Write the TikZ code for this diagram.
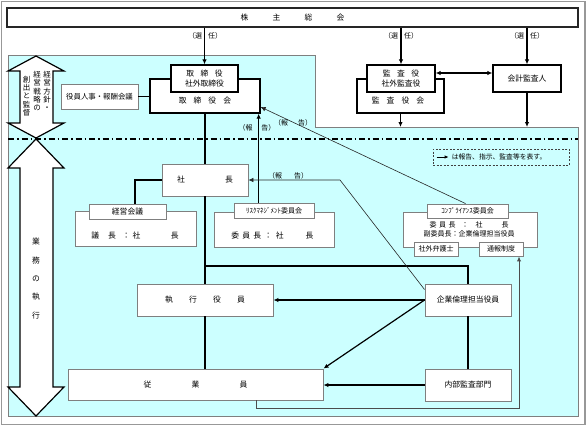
\documentclass[tikz,border=0pt]{standalone}
\usepackage{fontspec}
\newfontfamily\jp{Noto Sans CJK JP}
\usetikzlibrary{arrows.meta,calc}
\definecolor{cy}{HTML}{CCFFFF}
\definecolor{bd}{HTML}{7F7F7F}
\begin{document}
\begin{tikzpicture}[x=1pt,y=-1pt,
  every node/.style={font=\jp\fontsize{7.8}{9}\selectfont, inner sep=0pt},
  gbox/.style={draw=bd, line width=0.9pt, fill=white, rectangle},
  kbox/.style={draw=black, line width=1.3pt, fill=white, rectangle},
  conn/.style={line width=1.2pt, draw=black},
  arr/.style={conn, -{Latex[length=5pt,width=4.5pt]}},
  dblarr/.style={conn, {Latex[length=5pt,width=4.5pt]}-{Latex[length=5pt,width=4.5pt]}},
  thinarr/.style={line width=0.6pt, draw=black!85, -{Latex[length=5pt,width=4.5pt]}},
  lbl/.style={font=\jp\fontsize{7}{8}\selectfont},
  bigarrow/.style={draw=black, fill=white, line width=1.2pt, line join=miter},
  vtext/.style={align=center, font=\jp\fontsize{7.5}{8.2}\selectfont}
]
\useasboundingbox (0,0) rectangle (588,426);
\draw[bd!80, line width=1.2pt] (1.5,1.5) rectangle (585,424.5);
% cyan region
\fill[cy] (8,55) -- (315,55) -- (315,127) -- (578,127) -- (578,416) -- (8,416) -- cycle;
\draw[bd, line width=0.9pt] (8,55) -- (315,55) -- (315,127) -- (578,127) -- (578,416) -- (8,416) -- cycle;
\coordinate (ct) at (400,127);
% dash-dot divider
\draw[line width=1.2pt, dash pattern=on 6pt off 3pt on 1.5pt off 3pt] (8,139) -- (578,139);
% big double arrows
\draw[bigarrow] (36,56) -- (64,71) -- (53,71) -- (53,123) -- (64,123) -- (36,138) -- (8,123) -- (20,123) -- (20,71) -- (8,71) -- cycle;
\draw[bigarrow] (36,139) -- (64,168) -- (53,168) -- (53,387) -- (64,387) -- (36,416) -- (8,387) -- (20,387) -- (20,168) -- (8,168) -- cycle;
\node[vtext] (a1c3) at (47,91) {経\\営\\方\\針\\・};
\node[vtext] (a1c2) at (37,91) {経\\営\\戦\\略\\の};
\node[vtext] (a1c1) at (26.5,96) {創\\出\\と\\監\\督};
\node[align=center, font=\jp\fontsize{7.8}{18.3}\selectfont] (a2t) at (36,278.5) {業\\務\\の\\執\\行};

% top row
\node[draw=black!85, line width=1.3pt, fill=white, minimum width=571pt, minimum height=19pt] (sh) at (292.5,17.5)
  {株\hspace{24.2pt}主\hspace{24.2pt}総\hspace{24.2pt}会};

\node[kbox, minimum width=110pt, minimum height=34pt] (tsko) at (205,96) {};
\node (tskt) at (205,100.5) {取\hspace{7pt}締\hspace{7pt}役\hspace{7pt}会};
\node[kbox, minimum width=67pt, minimum height=27pt, align=center, font=\jp\fontsize{7.8}{10}\selectfont] (tski) at (204.5,78.5) {取\hspace{6.5pt}締\hspace{6.5pt}役\\社外取締役};
\node[gbox, minimum width=77pt, minimum height=25pt, font=\jp\fontsize{7.4}{9}\selectfont] (yj) at (99.5,96.5) {役員人事・報酬会議};

\node[kbox, minimum width=87pt, minimum height=34pt] (kao) at (400.5,96) {};
\node (kat) at (398,100.5) {監\hspace{7pt}査\hspace{7pt}役\hspace{7pt}会};
\node[kbox, minimum width=68pt, minimum height=27pt, align=center, font=\jp\fontsize{7.8}{10}\selectfont] (kai) at (401,78.5) {監\hspace{6.5pt}査\hspace{6.5pt}役\\社外監査役};
\node[kbox, minimum width=68pt, minimum height=27pt] (kk) at (527,78.5) {会計監査人};

% middle
\node[gbox, minimum width=86pt, minimum height=32pt] (sc) at (205,180) {社\hspace{40.2pt}長};

\node[gbox, minimum width=121pt, minimum height=35pt] (kgo) at (135.5,228.5) {};
\node (kgt) at (135,235.5) {議\hspace{9pt}長\hspace{6.5pt}：\hspace{2.5pt}社\hspace{30.5pt}長};
\node[gbox, minimum width=77pt, minimum height=15pt] (kgtab) at (127.5,211.5) {経営会議};

\node[gbox, minimum width=120pt, minimum height=35pt] (rko) at (274,229.5) {};
\node (rkt) at (272.5,235.5) {委\hspace{3.2pt}員\hspace{3.2pt}長\hspace{3.2pt}：\hspace{3.7pt}社\hspace{22pt}長};
\node[gbox, minimum width=80pt, minimum height=15pt, font=\jp\fontsize{7}{8}\selectfont] (rktab) at (274,210.5) {ﾘｽｸﾏﾈｼﾞﾒﾝﾄ委員会};

\node[gbox, minimum width=134pt, minimum height=35pt] (cpo) at (470,229.5) {};
\node[align=center, font=\jp\fontsize{7}{8.5}\selectfont] (cpt) at (469,229.5)
  {委\hspace{2.5pt}員\hspace{2.5pt}長\hspace{6pt}：\hspace{7pt}社\hspace{19pt}長\\副委員長：企業倫理担当役員};
\node[gbox, minimum width=81pt, minimum height=14pt, font=\jp\fontsize{7}{8}\selectfont] (cptab) at (467.5,211) {ｺﾝﾌﾟﾗｲｱﾝｽ委員会};
\node[gbox, minimum width=44pt, minimum height=14pt, font=\jp\fontsize{7}{8}\selectfont] (bg) at (436,249) {社外弁護士};
\node[gbox, minimum width=44pt, minimum height=14pt, font=\jp\fontsize{7}{8}\selectfont] (ts) at (501,249) {通報制度};

\node[draw=black!75, dash pattern=on 2pt off 1.5pt, line width=0.8pt, minimum width=136pt, minimum height=16pt] (lg) at (501,157) {};
\node[anchor=west, font=\jp\fontsize{6.8}{8}\selectfont] (lgt) at ([xshift=19pt]lg.west) {は報告、指示、監査等を表す。};
\draw[line width=1pt, -{Latex[length=4pt,width=3.5pt]}] ([xshift=4pt]lg.west) -- ([xshift=16pt]lg.west);

% lower
\node[gbox, minimum width=136pt, minimum height=32pt] (sk) at (205,300) {執\hspace{16.2pt}行\hspace{16.2pt}役\hspace{16.2pt}員};
\node[gbox, minimum width=86pt, minimum height=32pt] (kr) at (468,300) {企業倫理担当役員};
\node[gbox, minimum width=255pt, minimum height=31pt] (jg) at (195.5,384.5) {従\hspace{40.2pt}業\hspace{40.2pt}員};
\node[gbox, minimum width=86pt, minimum height=32pt] (nb) at (468,385) {内部監査部門};

% connectors: election
\draw[arr] (sh.south -| tski.north) -- (tski.north);
\draw[arr] (sh.south -| kai.north) -- (kai.north);
\draw[arr] (sh.south -| kk.north) -- (kk.north);
\node[lbl] (l1) at (205,36) {（選\hspace{6pt}任）};
\node[lbl] (l2) at (401,36) {（選\hspace{6pt}任）};
\node[lbl] (l3) at (527,36) {（選\hspace{6pt}任）};
\draw[dblarr] ([yshift=5.5pt]kai.east) -- ([yshift=5.5pt]kk.west);
\draw[arr] (kao.south) -- (kao.south |- ct);
\draw[arr] (kk.south) -- (kk.south |- ct);
\draw[conn] (yj.east) -- (yj.east -| tsko.west);

% main vertical line
\draw[conn] (tsko.south) -- (sc.north);
\draw[conn] (sc.south) -- (sk.north);
\draw[conn] (sk.south) -- (sk.south |- jg.north);
\draw[conn] (sc.west) -| ([xshift=7.5pt]kgtab.north);
\coordinate (jt) at (205,266);
\draw[conn] (jt) -| (kr.north);

% reports
\draw[line width=0.9pt, -{Latex[length=5pt,width=4.5pt]}] ([xshift=-2pt]tsko.south east |- rktab.north) -- ([xshift=-2pt]tsko.south east);
\node[lbl] (l4) at (257,128) {（報\hspace{9pt}告）};
\draw[thinarr] ([xshift=-2pt]cptab.north) -- ([yshift=-11pt]tsko.east);
\node[lbl] (l5) at (293,123) {（報\hspace{10pt}告）};
\coordinate (kb) at (340,180);
\draw[thinarr] ([yshift=-6pt]kr.north west) -- (kb) -- (sc.east);
\node[lbl] (l6) at (288,175.5) {（報\hspace{12pt}告）};

% instructions
\draw[arr] (kr.west) -- (sk.east);
\draw[arr] (kr.west) -- (jg.north east);
\draw[conn] (kr.south) -- (nb.north);
\draw[arr] (nb.west) -- (nb.west -| jg.east);
\draw[line width=1pt, draw=black!70, -{Latex[length=5pt,width=4.5pt]}] ([xshift=60.5pt]jg.south) -- ++(0,8) -| ([xshift=18pt]ts.south);
\end{tikzpicture}
\end{document}
